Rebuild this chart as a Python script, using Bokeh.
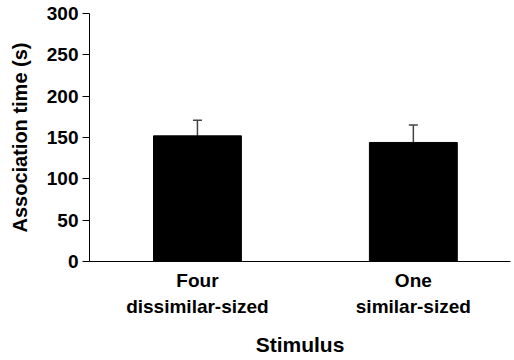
from bokeh.plotting import figure
from bokeh.models import Range1d, FixedTicker, Whisker, TeeHead, ColumnDataSource
from bokeh.embed import file_html
from bokeh.resources import INLINE

categories = ["Four\ndissimilar-sized", "One\nsimilar-sized"]
values = [152, 144]
errors = [19, 21]
y_ticks = [0, 50, 100, 150, 200, 250, 300]

xs = list(range(len(categories)))
src = ColumnDataSource(data=dict(
    x=xs, top=values,
    upper=[v + e for v, e in zip(values, errors)],
))

p = figure(width=512, height=358, output_backend="svg", toolbar_location=None,
           x_range=Range1d(-0.5, 1.45), y_range=Range1d(0, 300),
           min_border_left=89, min_border_top=13, min_border_bottom=96,
           min_border_right=2)

p.vbar(x="x", top="top", bottom=0, width=0.407, source=src,
       fill_color="black", line_color="black")

w = Whisker(base="x", lower="top", upper="upper", source=src,
            line_color="#444444", line_width=1.5,
            upper_head=TeeHead(size=9, line_color="#444444", line_width=1.5),
            lower_head=None)
p.add_layout(w)

p.grid.visible = False
p.outline_line_color = None

font = "Liberation Sans"

p.yaxis.ticker = FixedTicker(ticks=y_ticks)
p.yaxis.minor_tick_line_color = None
p.yaxis.major_tick_out = 7
p.yaxis.major_tick_in = 0
p.yaxis.major_label_standoff = 4
p.yaxis.major_label_text_font = font
p.yaxis.major_label_text_font_style = "bold"
p.yaxis.major_label_text_font_size = "19px"
p.yaxis.major_label_text_color = "black"
p.yaxis.axis_label = "Association time (s)"
p.yaxis.axis_label_text_font = font
p.yaxis.axis_label_text_font_style = "bold"
p.yaxis.axis_label_text_font_size = "20px"
p.yaxis.axis_label_text_color = "black"
p.yaxis.axis_label_standoff = 13
p.yaxis.axis_line_color = "black"
p.yaxis.major_tick_line_color = "black"

p.xaxis.ticker = FixedTicker(ticks=xs)
p.xaxis.major_label_overrides = {i: c for i, c in zip(xs, categories)}
p.xaxis.minor_tick_line_color = None
p.xaxis.major_tick_line_color = None
p.xaxis.major_tick_out = 0
p.xaxis.major_tick_in = 0
p.xaxis.major_label_standoff = 8
p.xaxis.major_label_text_font = font
p.xaxis.major_label_text_font_style = "bold"
p.xaxis.major_label_text_font_size = "19px"
p.xaxis.major_label_text_line_height = 1.25
p.xaxis.major_label_text_color = "black"
p.xaxis.axis_label = "Stimulus"
p.xaxis.axis_label_text_font = font
p.xaxis.axis_label_text_font_style = "bold"
p.xaxis.axis_label_text_font_size = "21px"
p.xaxis.axis_label_text_color = "black"
p.xaxis.axis_label_standoff = 13
p.xaxis.axis_line_color = "black"

open("out.html", "w").write(file_html(p, INLINE))
